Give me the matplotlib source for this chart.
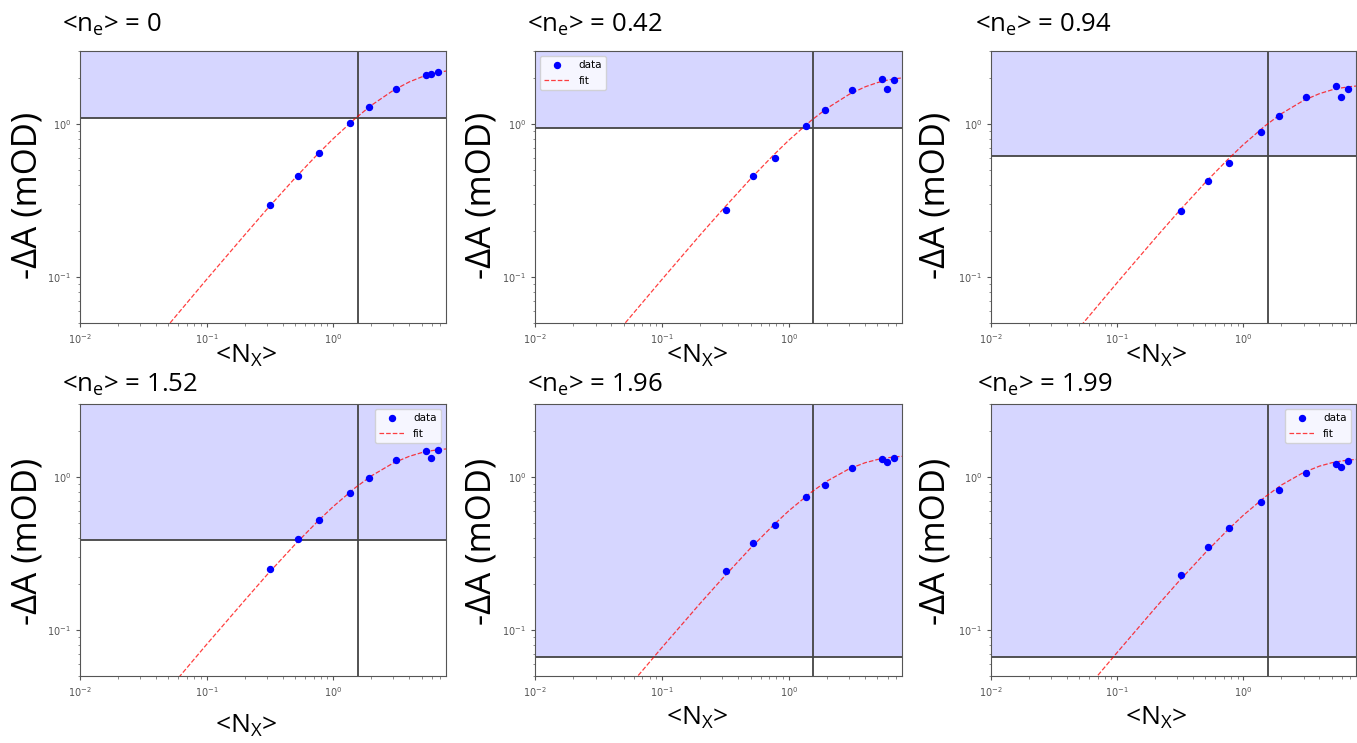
import numpy as np
import matplotlib
matplotlib.use('Agg')
import matplotlib.pyplot as plt


# mean exciton number <N_X> for each fluence
nx = [0.32, 0.525, 0.775, 1.37, 1.93, 3.13, 5.4, 5.95, 6.75]

# -dA (mOD) per panel
dA_p1 = [0.295, 0.46, 0.645, 1.01, 1.29, 1.69, 2.08, 2.13, 2.18]
dA_p2 = [0.272, 0.456, 0.60, 0.966, 1.23, 1.67, 1.97, 1.70, 1.94]
dA_p3 = [0.268, 0.425, 0.554, 0.882, 1.13, 1.50, 1.76, 1.51, 1.70]
dA_p4 = [0.249, 0.396, 0.527, 0.791, 0.986, 1.285, 1.47, 1.34, 1.49]
dA_p5 = [0.244, 0.371, 0.482, 0.737, 0.892, 1.15, 1.32, 1.26, 1.34]
dA_p6 = [0.227, 0.348, 0.463, 0.684, 0.828, 1.06, 1.22, 1.17, 1.28]

# fit curves
fit_x = [0.03, 0.05, 0.1, 0.2, 0.3, 0.5, 0.75, 1.0, 1.5, 2.0, 3.0, 4.0, 5.0, 6.0, 7.0, 8.0]
fit_p1 = [0.0293, 0.0486, 0.0962, 0.188, 0.277, 0.443, 0.631, 0.800, 1.088, 1.322, 1.662, 1.884, 2.029, 2.123, 2.185, 2.225]
fit_p2 = [0.0294, 0.0487, 0.0962, 0.188, 0.275, 0.438, 0.621, 0.783, 1.053, 1.266, 1.565, 1.750, 1.865, 1.935, 1.979, 2.006]
fit_p3 = [0.0281, 0.0465, 0.0918, 0.179, 0.262, 0.415, 0.585, 0.734, 0.979, 1.168, 1.426, 1.578, 1.669, 1.722, 1.754, 1.773]
fit_p4 = [0.0245, 0.0407, 0.0803, 0.156, 0.229, 0.362, 0.510, 0.640, 0.852, 1.015, 1.236, 1.365, 1.442, 1.486, 1.513, 1.528]
fit_p5 = [0.0235, 0.0389, 0.0767, 0.149, 0.217, 0.343, 0.481, 0.601, 0.794, 0.940, 1.132, 1.240, 1.301, 1.335, 1.355, 1.366]
fit_p6 = [0.0218, 0.0362, 0.0713, 0.139, 0.203, 0.320, 0.450, 0.563, 0.746, 0.886, 1.071, 1.177, 1.238, 1.273, 1.293, 1.305]

ne_labels = ['0', '0.42', '0.94', '1.52', '1.96', '1.99']
hline_vals = [1.09, 0.937, 0.615, 0.386, 0.067, 0.067]
vline_val = 1.56
legend_locs = [None, 'upper left', None, 'upper right', None, 'upper right']

data_sets = [dA_p1, dA_p2, dA_p3, dA_p4, dA_p5, dA_p6]
fit_sets = [fit_p1, fit_p2, fit_p3, fit_p4, fit_p5, fit_p6]

plt.rcParams['mathtext.fontset'] = 'custom'
plt.rcParams['mathtext.rm'] = 'Open Sans'
plt.rcParams['mathtext.it'] = 'Open Sans:italic'

W, H = 1357, 743
fig = plt.figure(figsize=(W / 100, H / 100), dpi=100)

lefts = [80, 535, 991]
rights = [446, 902, 1356]
tops = [51, 404]
bottoms = [323, 676]

title_pos = [(62, 32), (527, 32), (975, 32), (62, 392), (527, 392), (977, 392)]
ylab_x = [28, 482, 936]
ylab_y = [195, 541]
xlab_x = [246, 697, 1156]
xlab_y = [363, 363, 363, 733, 725, 725]

for i in range(6):
    r, c = divmod(i, 3)
    l, rr = lefts[c], rights[c]
    t, b = tops[r], bottoms[r]
    ax = fig.add_axes([l / W, 1 - b / H, (rr - l) / W, (b - t) / H])
    ax.set_xscale('log')
    ax.set_yscale('log')
    ax.set_xlim(0.01, 7.8)
    ax.set_ylim(0.05, 3.0)

    ax.axhspan(hline_vals[i], 3.0, color='blue', alpha=0.16, lw=0)
    ax.axhline(hline_vals[i], color='#444444', lw=1.3)
    ax.axvline(vline_val, color='#444444', lw=1.3)
    ax.plot(nx, data_sets[i], 'o', color='blue', ms=4.3, label='data', zorder=4)
    ax.plot(fit_x, fit_sets[i], '--', color='red', lw=0.9, alpha=0.75, label='fit', zorder=3)

    if legend_locs[i] is not None:
        ax.legend(loc=legend_locs[i], fontsize=7.5, handlelength=2.5)

    ax.tick_params(labelsize=7, labelcolor='#555555', color='#555555', length=3)
    ax.tick_params(which='minor', color='#777777', length=1.8)
    for sp in ax.spines.values():
        sp.set_color('#555555')

    tx, ty = title_pos[i]
    fig.text(tx / W, 1 - ty / H, '<n$_{\\rm e}$> = ' + ne_labels[i],
             family='Open Sans', fontsize=18.5, ha='left', va='baseline')
    fig.text(ylab_x[c] / W, 1 - ylab_y[r] / H, '-ΔA (mOD)', family='Open Sans',
             fontsize=25, rotation=90, ha='center', va='center')
    fig.text(xlab_x[c] / W, 1 - xlab_y[i] / H, '<N$_{\\rm X}$>', family='Open Sans',
             fontsize=19, ha='center', va='baseline')

fig.savefig('out.png', dpi=100)
